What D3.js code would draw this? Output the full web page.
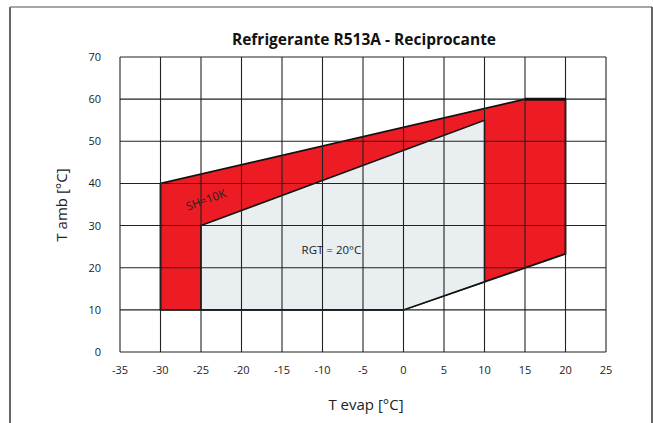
<!DOCTYPE html>
<html>
<head>
<meta charset="utf-8">
<script src="https://cdn.jsdelivr.net/npm/d3@7"></script>
<style>
  body { margin: 0; background: #fff; }
  text { font-family: "Open Sans", sans-serif; }
</style>
</head>
<body>
<svg id="chart" width="653" height="423"></svg>
<script>
// 데이터
var xTicks = [-35, -30, -25, -20, -15, -10, -5, 0, 5, 10, 15, 20, 25];
var yTicks = [0, 10, 20, 30, 40, 50, 60, 70];

// SH=10K 외곽 영역 (T evap, T amb)
var envelopeSH = [[-30, 10], [-30, 40], [15, 60], [20, 60], [20, 23.3], [0, 10]];
// RGT = 20°C 영역
var envelopeRGT = [[-25, 10], [-25, 30], [10, 55], [10, 16.7], [0, 10]];

var svg = d3.select("#chart");
var margin = { top: 57, right: 47, bottom: 71, left: 120 };
var width = 653 - margin.left - margin.right;
var height = 423 - margin.top - margin.bottom;

// 바깥 테두리
svg.append("line").attr("x1", 10).attr("y1", 7).attr("x2", 10).attr("y2", 423)
	.style("stroke", "#333").style("stroke-width", 1.5);
svg.append("line").attr("x1", 10).attr("y1", 7).attr("x2", 652).attr("y2", 7)
	.style("stroke", "#888").style("stroke-width", 1.5);
svg.append("line").attr("x1", 652).attr("y1", 7).attr("x2", 652).attr("y2", 423)
	.style("stroke", "#333").style("stroke-width", 1.5);

var g = svg.append("g").attr("transform", `translate(${margin.left},${margin.top})`);

var x = d3.scaleLinear().domain([-35, 25]).range([0, width]);
var y = d3.scaleLinear().domain([0, 70]).range([height, 0]);

var line = d3.line().x(d => x(d[0])).y(d => y(d[1]));

// 영역
g.append("path")
	.attr("d", line(envelopeSH) + "Z")
	.style("fill", "#ed1c24")
	.style("stroke", "#111")
	.style("stroke-width", 1.8)
	.style("stroke-linejoin", "miter");

g.append("path")
	.attr("d", line(envelopeRGT) + "Z")
	.style("fill", "#e9eef1")
	.style("stroke", "#111")
	.style("stroke-width", 1.5);

// 그리드
g.selectAll(".vgrid")
	.data(xTicks)
	.enter().append("line")
	.attr("x1", d => x(d)).attr("x2", d => x(d))
	.attr("y1", 0).attr("y2", height)
	.style("stroke", "#222").style("stroke-width", 1.1);

g.selectAll(".hgrid")
	.data(yTicks)
	.enter().append("line")
	.attr("y1", d => y(d)).attr("y2", d => y(d))
	.attr("x1", 0).attr("x2", width)
	.style("stroke", "#222").style("stroke-width", 1.1);

// 상단 굵은 선
g.append("line")
	.attr("x1", x(15)).attr("x2", x(20))
	.attr("y1", y(60)).attr("y2", y(60))
	.style("stroke", "#111").style("stroke-width", 3);

// X축 라벨
g.selectAll(".xlabel")
	.data(xTicks)
	.enter().append("text")
	.attr("x", d => x(d))
	.attr("y", height + 22)
	.attr("text-anchor", "middle")
	.style("font-size", "11px")
	.style("fill", "#222")
	.text(d => d);

// Y축 라벨
g.selectAll(".ylabel")
	.data(yTicks)
	.enter().append("text")
	.attr("x", -19)
	.attr("y", d => y(d) + 4)
	.attr("text-anchor", "end")
	.style("font-size", "11px")
	.style("fill", "#222")
	.text(d => d);

// 영역 텍스트
g.append("text")
	.attr("transform", `translate(${x(-24.4)},${y(36.1)}) rotate(-20)`)
	.attr("text-anchor", "middle")
	.attr("dy", "0.35em")
	.style("font-size", "11.5px")
	.style("fill", "#222")
	.text("SH=10K");

g.append("text")
	.attr("x", x(-8.9))
	.attr("y", y(23.2))
	.attr("text-anchor", "middle")
	.style("font-size", "11.5px")
	.style("fill", "#222")
	.text("RGT = 20°C");

// 제목
svg.append("text")
	.attr("x", 364)
	.attr("y", 45)
	.attr("text-anchor", "middle")
	.style("font-size", "15.5px")
	.style("font-weight", "bold")
	.style("fill", "#111")
	.text("Refrigerante R513A - Reciprocante");

// 축 제목
svg.append("text")
	.attr("x", 366)
	.attr("y", 410)
	.attr("text-anchor", "middle")
	.style("font-size", "15px")
	.style("fill", "#222")
	.text("T evap [°C]");

svg.append("text")
	.attr("transform", "translate(67,205) rotate(-90)")
	.attr("text-anchor", "middle")
	.style("font-size", "15px")
	.style("fill", "#222")
	.text("T amb [°C]");
</script>
</body>
</html>
